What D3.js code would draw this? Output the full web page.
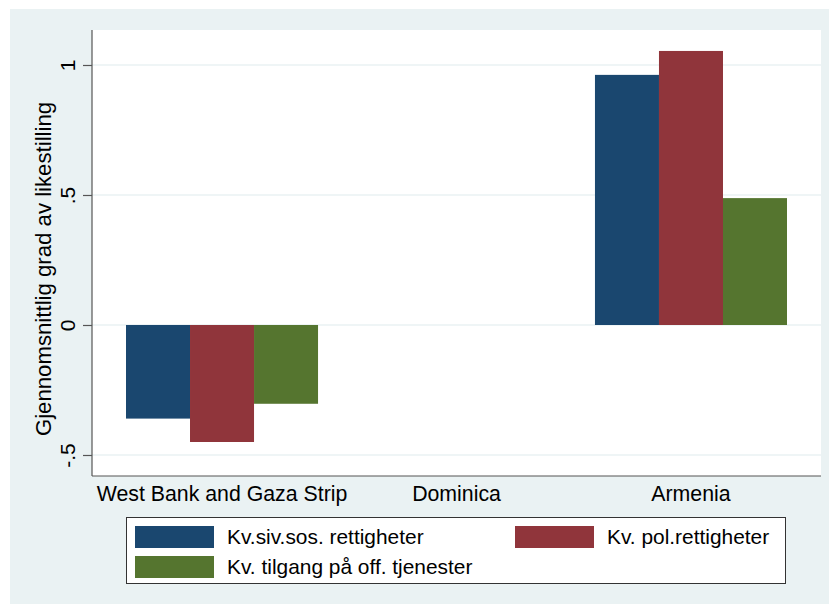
<!DOCTYPE html>
<html>
<head>
<meta charset="utf-8">
<script src="https://cdn.jsdelivr.net/npm/d3@7"></script>
<style>
  body { margin: 0; background: #fff; }
  text { font-family: "Liberation Sans", Arial, sans-serif; fill: #000; }
</style>
</head>
<body>
<div id="chart"></div>
<script>
(function(){
	var width = 829,
	height = 604;

	// data
	var countries = ["West Bank and Gaza Strip", "Dominica", "Armenia"];
	var series = ["Kv.siv.sos. rettigheter", "Kv. pol.rettigheter", "Kv. tilgang på off. tjenester"];
	var sivsos = [-0.36, null, 0.962];
	var pol = [-0.45, null, 1.054];
	var tilgang = [-0.303, null, 0.488];
	var yTicks = [-0.5, 0, 0.5, 1];
	var yTickLabels = ["-.5", "0", ".5", "1"];
	var colors = ["#1a476f", "#90353b", "#55752f"];

	var values = [sivsos, pol, tilgang];

	var svg = d3.select("#chart")
		.append("svg")
		.attr("width", width)
		.attr("height", height);

	// graph region
	svg.append("rect")
		.attr("x", 10).attr("y", 9)
		.attr("width", width - 10).attr("height", height - 9)
		.attr("fill", "#eaf2f3");

	var plot = {left: 92, right: 821, top: 30, bottom: 476};

	svg.append("rect")
		.attr("x", plot.left).attr("y", plot.top)
		.attr("width", plot.right - plot.left).attr("height", plot.bottom - plot.top)
		.attr("fill", "#fff");

	var x = d3.scaleBand()
		.domain(countries)
		.range([plot.left, plot.right])
		.paddingInner(0.181)
		.paddingOuter(0.145);

	var xs = d3.scaleBand()
		.domain(d3.range(series.length))
		.range([0, x.bandwidth()]);

	var y = d3.scaleLinear()
		.domain([-0.5808, 1.1346])
		.range([plot.bottom, plot.top]);

	// gridlines
	svg.selectAll(".grid")
		.data(yTicks)
		.enter().append("line")
		.attr("class", "grid")
		.attr("x1", plot.left).attr("x2", plot.right)
		.attr("y1", function(d){ return y(d); })
		.attr("y2", function(d){ return y(d); })
		.style("stroke", "#eaf2f3")
		.style("stroke-width", "1.5px");

	// bars
	var groups = svg.selectAll(".country")
		.data(countries)
		.enter().append("g")
		.attr("class", "country")
		.attr("transform", function(d){ return "translate(" + x(d) + ",0)"; });

	groups.selectAll("rect")
		.data(function(d, i){
			return values.map(function(v, j){ return {s: j, v: v[i]}; })
				.filter(function(e){ return e.v != null; });
		})
		.enter().append("rect")
		.attr("x", function(d){ return xs(d.s); })
		.attr("width", xs.bandwidth())
		.attr("y", function(d){ return y(Math.max(0, d.v)); })
		.attr("height", function(d){ return Math.abs(y(d.v) - y(0)); })
		.attr("fill", function(d){ return colors[d.s]; });

	// y axis
	var yAxis = d3.axisLeft(y)
		.tickValues(yTicks)
		.tickSize(9)
		.tickPadding(0)
		.tickFormat(function(d, i){ return yTickLabels[i]; });

	var ya = svg.append("g")
		.attr("transform", "translate(" + plot.left + ",0)")
		.call(yAxis);
	ya.select(".domain").attr("stroke", "#555").attr("stroke-width", 1.2)
		.attr("d", "M0," + plot.top + "V" + plot.bottom);
	ya.selectAll(".tick line").attr("stroke", "#555").attr("stroke-width", 1.2);
	ya.selectAll(".tick text")
		.attr("x", 0).attr("y", 0)
		.attr("dy", null)
		.attr("transform", "translate(-17,0) rotate(-90)")
		.attr("text-anchor", "middle")
		.style("font-size", "21px");

	// x axis
	var xAxis = d3.axisBottom(x).tickSize(0).tickPadding(0);
	var xa = svg.append("g")
		.attr("transform", "translate(0," + plot.bottom + ")")
		.call(xAxis);
	xa.select(".domain").attr("stroke", "#555").attr("stroke-width", 1.2)
		.attr("d", "M" + plot.left + ",0H" + plot.right);
	xa.selectAll(".tick text")
		.attr("y", 25).attr("dy", null)
		.style("font-size", "21.3px");

	// axis title
	svg.append("text")
		.attr("transform", "translate(51," + ((plot.top + plot.bottom) / 2 + 16) + ") rotate(-90)")
		.attr("text-anchor", "middle")
		.style("font-size", "22.2px")
		.text("Gjennomsnittlig grad av likestilling");

	// legend
	var legend = svg.append("g");
	legend.append("rect")
		.attr("x", 126.5).attr("y", 517.5)
		.attr("width", 659).attr("height", 66)
		.attr("fill", "#fff")
		.attr("stroke", "#333")
		.attr("stroke-width", 1);

	var legPos = [[135, 526], [515, 526], [135, 556]];
	var items = legend.selectAll(".item")
		.data(series)
		.enter().append("g")
		.attr("class", "item")
		.attr("transform", function(d, i){ return "translate(" + legPos[i][0] + "," + legPos[i][1] + ")"; });

	items.append("rect")
		.attr("width", 79).attr("height", 22)
		.attr("fill", function(d, i){ return colors[i]; });

	items.append("text")
		.attr("x", 92).attr("y", 18)
		.style("font-size", "20.9px")
		.text(function(d){ return d; });
})();
</script>
</body>
</html>
